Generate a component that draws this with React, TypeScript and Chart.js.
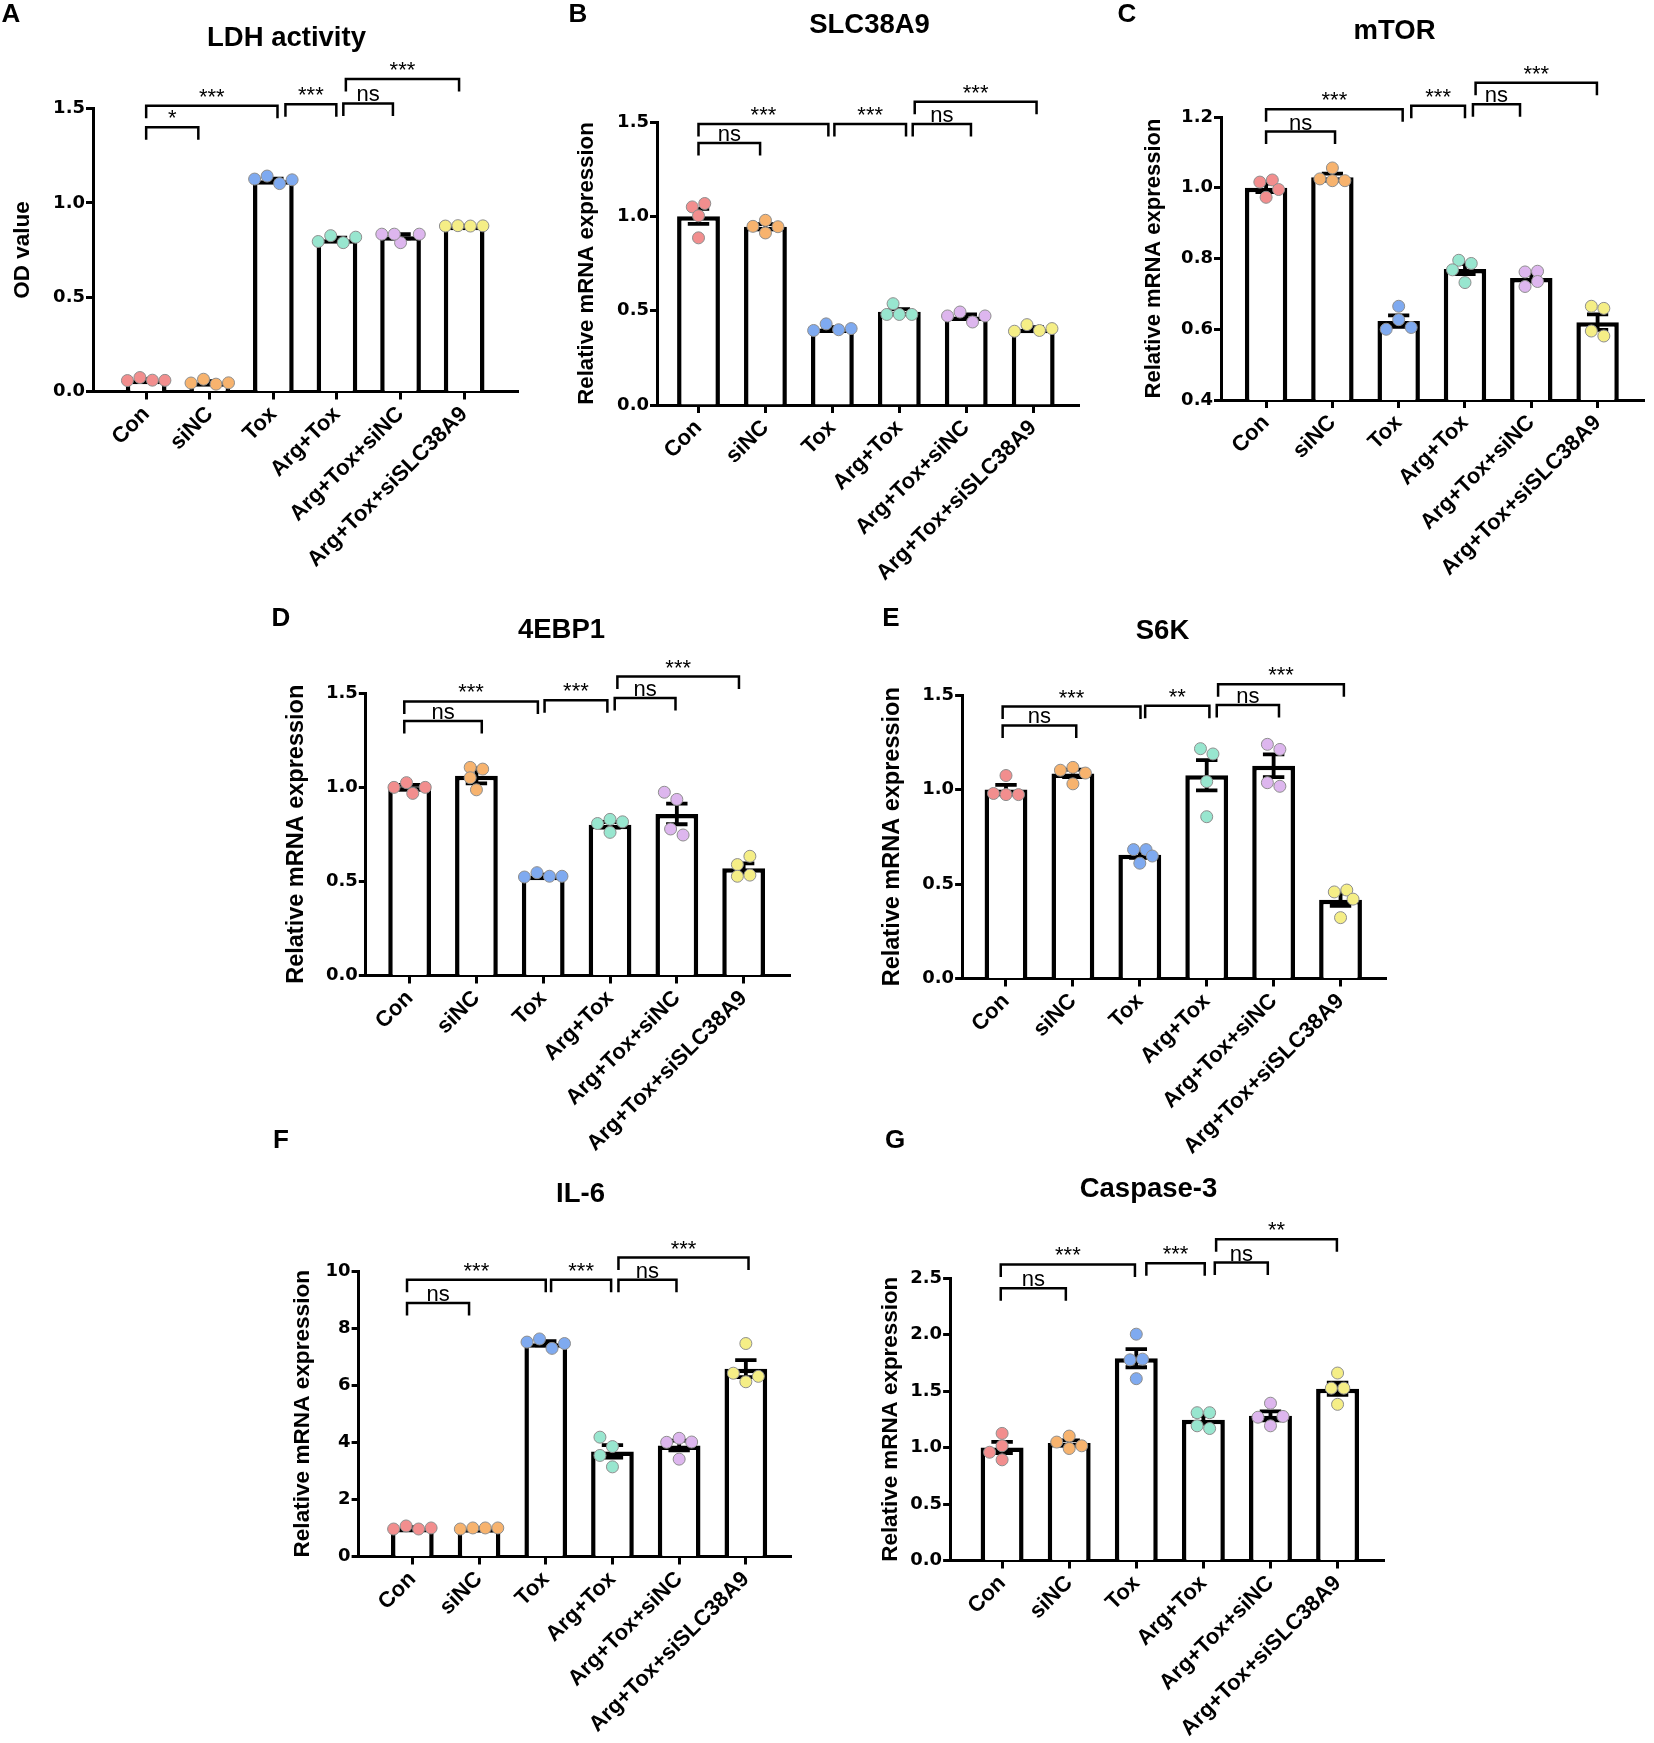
import React, { useEffect, useRef } from 'react';
import { Chart, registerables } from 'chart.js';

Chart.register(...registerables);

// ---------------- data ----------------
const categories = ['Con', 'siNC', 'Tox', 'Arg+Tox', 'Arg+Tox+siNC', 'Arg+Tox+siSLC38A9'];
const groupColors = ['#F28E8E', '#F7B36E', '#7FAAF0', '#98E6CF', '#DDB6EE', '#F5EE86'];
const comparisons: [number, number][] = [[0, 1], [0, 2], [2, 3], [3, 4], [3, 5]];

// A: LDH activity
const ldhMeans = [0.062, 0.049, 1.12, 0.807, 0.823, 0.878];
const ldhSem = [0.004, 0.006, 0.008, 0.009, 0.011, 0.001];
const ldhPoints = [
  [0.058, 0.074, 0.06, 0.059],
  [0.045, 0.065, 0.039, 0.046],
  [1.102, 1.142, 1.122, 1.126],
  [0.795, 0.826, 0.789, 0.818],
  [0.789, 0.834, 0.834, 0.834],
  [0.877, 0.879, 0.877, 0.878],
];
const ldhTicks = [0, 0.5, 1.0, 1.5];
const ldhSigLabels = ['*', '***', '***', 'ns', '***'];
const ldhSigY = [1.40, 1.514, 1.523, 1.527, 1.657];

// B: SLC38A9
const slcMeans = [1.0, 0.945, 0.405, 0.494, 0.469, 0.404];
const slcSem = [0.04, 0.014, 0.008, 0.014, 0.011, 0.008];
const slcPoints = [
  [1.068, 1.05, 1.003, 0.886],
  [0.979, 0.912, 0.947, 0.945],
  [0.395, 0.43, 0.399, 0.405],
  [0.48, 0.537, 0.48, 0.48],
  [0.44, 0.493, 0.472, 0.472],
  [0.391, 0.426, 0.395, 0.405],
];
const slcTicks = [0, 0.5, 1.0, 1.5];
const slcSigLabels = ['ns', '***', '***', 'ns', '***'];
const slcSigY = [1.389, 1.49, 1.49, 1.49, 1.607];

// C: mTOR
const mtorMeans = [1.0, 1.03, 0.623, 0.77, 0.745, 0.62];
const mtorSem = [0.012, 0.01, 0.016, 0.014, 0.01, 0.022];
const mtorPoints = [
  [1.022, 1.016, 0.995, 0.973],
  [1.02, 1.056, 1.025, 1.02],
  [0.627, 0.665, 0.6, 0.605],
  [0.795, 0.768, 0.786, 0.732],
  [0.764, 0.762, 0.735, 0.721],
  [0.659, 0.665, 0.581, 0.595],
];
const mtorTicks = [0.4, 0.6, 0.8, 1.0, 1.2];
const mtorSigLabels = ['ns', '***', '***', 'ns', '***'];
const mtorSigY = [1.159, 1.222, 1.232, 1.236, 1.297];

// D: 4EBP1
const ebpMeans = [1.0, 1.06, 0.53, 0.80, 0.858, 0.57];
const ebpSem = [0.012, 0.04, 0.005, 0.015, 0.055, 0.025];
const ebpPoints = [
  [0.967, 1.024, 0.999, 0.999],
  [1.105, 1.05, 1.096, 0.986],
  [0.523, 0.546, 0.527, 0.527],
  [0.829, 0.807, 0.816, 0.76],
  [0.935, 0.973, 0.746, 0.778],
  [0.533, 0.589, 0.633, 0.527],
];
const ebpTicks = [0, 0.5, 1.0, 1.5];
const ebpSigLabels = ['ns', '***', '***', 'ns', '***'];
const ebpSigY = [1.351, 1.455, 1.462, 1.474, 1.587];

// E: S6K
const s6kMeans = [1.0, 1.085, 0.655, 1.075, 1.126, 0.417];
const s6kSem = [0.025, 0.02, 0.017, 0.08, 0.06, 0.033];
const s6kPoints = [
  [0.973, 1.074, 0.979, 0.973],
  [1.117, 1.03, 1.102, 1.087],
  [0.682, 0.682, 0.61, 0.648],
  [1.188, 1.216, 1.042, 0.856],
  [1.212, 1.239, 1.017, 1.036],
  [0.468, 0.458, 0.42, 0.322],
];
const s6kTicks = [0, 0.5, 1.0, 1.5];
const s6kSigLabels = ['ns', '***', '**', 'ns', '***'];
const s6kSigY = [1.339, 1.439, 1.443, 1.447, 1.557];

// F: IL-6
const il6Means = [1.0, 0.99, 7.47, 3.68, 3.89, 6.58];
const il6Sem = [0.03, 0.01, 0.07, 0.22, 0.17, 0.3];
const il6Points = [
  [0.963, 1.07, 0.963, 1.0],
  [0.963, 1.0, 1.0, 1.0],
  [7.29, 7.62, 7.46, 7.51],
  [3.85, 4.18, 3.54, 3.14],
  [4.14, 4.0, 4.01, 3.41],
  [6.12, 6.42, 6.31, 7.46],
];
const il6Ticks = [0, 2, 4, 6, 8, 10];
const il6SigLabels = ['ns', '***', '***', 'ns', '***'];
const il6SigY = [8.88, 9.69, 9.69, 9.69, 10.47];

// G: Caspase-3
const casMeans = [1.0, 1.04, 1.79, 1.245, 1.28, 1.52];
const casSem = [0.05, 0.023, 0.08, 0.036, 0.04, 0.055];
const casPoints = [
  [1.015, 1.125, 0.958, 0.891],
  [1.101, 1.048, 0.991, 1.015],
  [2.003, 1.782, 1.776, 1.609],
  [1.308, 1.308, 1.168, 1.192],
  [1.392, 1.192, 1.268, 1.275],
  [1.659, 1.525, 1.525, 1.382],
];
const casTicks = [0, 0.5, 1.0, 1.5, 2.0, 2.5];
const casSigLabels = ['ns', '***', '***', 'ns', '**'];
const casSigY = [2.41, 2.62, 2.63, 2.637, 2.844];

// ---------------- styling / layout ----------------
const SANS = "'Liberation Sans', Arial, Helvetica, sans-serif";
const WIDE = "'DejaVu Sans', Verdana, sans-serif";
const POINT_RADIUS = 6;
const POINT_D = 12.5;
const X_AXIS_H = 195;

interface PanelData {
  letter: string; title: string; yLabel: string;
  means: number[]; sem: number[]; points: number[][];
  yTicks: number[]; decimals: number; sigLabels: string[]; sigY: number[];
}
interface PanelLayout {
  letterPos: [number, number]; titlePos: [number, number]; titleSize: number;
  axisX: number; top: number; bottom: number; xEnd: number; xMin: number; xMax: number;
  yTitleX: number; yTitleSize: number;
  bracketX: [number, number][]; // bracket end positions along the category axis
}

const panels: { d: PanelData; l: PanelLayout }[] = [
  {
    d: { letter: 'A', title: 'LDH activity', yLabel: 'OD value', means: ldhMeans, sem: ldhSem, points: ldhPoints, yTicks: ldhTicks, decimals: 1, sigLabels: ldhSigLabels, sigY: ldhSigY },
    l: { letterPos: [11, 15], titlePos: [286.5, 38.5], titleSize: 27.5, axisX: 93, top: 108.5, bottom: 391.5, xEnd: 518.4, xMin: -0.836, xMax: 5.853, yTitleX: 23, yTitleSize: 22.5,
      bracketX: [[0, 0.82], [0, 2.065], [2.19, 2.99], [3.10, 3.88], [3.14, 4.92]] },
  },
  {
    d: { letter: 'B', title: 'SLC38A9', yLabel: 'Relative mRNA expression', means: slcMeans, sem: slcSem, points: slcPoints, yTicks: slcTicks, decimals: 1, sigLabels: slcSigLabels, sigY: slcSigY },
    l: { letterPos: [578, 15], titlePos: [869.5, 25], titleSize: 27.5, axisX: 657, top: 122, bottom: 405, xEnd: 1079.4, xMin: -0.62, xMax: 5.69, yTitleX: 587, yTitleSize: 22.2,
      bracketX: [[0, 0.92], [0, 1.94], [2.03, 3.10], [3.20, 4.07], [3.23, 5.05]] },
  },
  {
    d: { letter: 'C', title: 'mTOR', yLabel: 'Relative mRNA expression', means: mtorMeans, sem: mtorSem, points: mtorPoints, yTicks: mtorTicks, decimals: 1, sigLabels: mtorSigLabels, sigY: mtorSigY },
    l: { letterPos: [1127, 15], titlePos: [1394.5, 31], titleSize: 27.5, axisX: 1221, top: 117, bottom: 400, xEnd: 1644, xMin: -0.68, xMax: 5.70, yTitleX: 1154, yTitleSize: 22,
      bracketX: [[0, 1.04], [0, 2.06], [2.19, 3.0], [3.12, 3.83], [3.16, 4.99]] },
  },
  {
    d: { letter: 'D', title: '4EBP1', yLabel: 'Relative mRNA expression', means: ebpMeans, sem: ebpSem, points: ebpPoints, yTicks: ebpTicks, decimals: 1, sigLabels: ebpSigLabels, sigY: ebpSigY },
    l: { letterPos: [281, 619], titlePos: [561.5, 630], titleSize: 27.5, axisX: 365.8, top: 693, bottom: 975.5, xEnd: 790.4, xMin: -0.656, xMax: 5.70, yTitleX: 297, yTitleSize: 23.5,
      bracketX: [[-0.08, 1.08], [-0.08, 1.92], [2.02, 2.96], [3.07, 3.98], [3.11, 4.93]] },
  },
  {
    d: { letter: 'E', title: 'S6K', yLabel: 'Relative mRNA expression', means: s6kMeans, sem: s6kSem, points: s6kPoints, yTicks: s6kTicks, decimals: 1, sigLabels: s6kSigLabels, sigY: s6kSigY },
    l: { letterPos: [891, 619], titlePos: [1162.5, 631], titleSize: 27.5, axisX: 962.1, top: 695, bottom: 978.5, xEnd: 1386.7, xMin: -0.656, xMax: 5.69, yTitleX: 893, yTitleSize: 23.5,
      bracketX: [[-0.05, 1.05], [-0.05, 2.01], [2.08, 3.04], [3.15, 4.08], [3.17, 5.05]] },
  },
  {
    d: { letter: 'F', title: 'IL-6', yLabel: 'Relative mRNA expression', means: il6Means, sem: il6Sem, points: il6Points, yTicks: il6Ticks, decimals: 0, sigLabels: il6SigLabels, sigY: il6SigY },
    l: { letterPos: [281, 1141], titlePos: [580.5, 1194.5], titleSize: 27.5, axisX: 358.6, top: 1271, bottom: 1556.5, xEnd: 791.4, xMin: -0.806, xMax: 5.683, yTitleX: 303, yTitleSize: 22.6,
      bracketX: [[-0.08, 0.85], [-0.08, 2.0], [2.08, 2.98], [3.09, 3.96], [3.09, 5.04]] },
  },
  {
    d: { letter: 'G', title: 'Caspase-3', yLabel: 'Relative mRNA expression', means: casMeans, sem: casSem, points: casPoints, yTicks: casTicks, decimals: 1, sigLabels: casSigLabels, sigY: casSigY },
    l: { letterPos: [895, 1141], titlePos: [1148.5, 1189.5], titleSize: 27.5, axisX: 950.1, top: 1278, bottom: 1560.5, xEnd: 1384.2, xMin: -0.775, xMax: 5.695, yTitleX: 891, yTitleSize: 22.4,
      bracketX: [[-0.02, 0.95], [-0.02, 1.98], [2.15, 3.02], [3.17, 3.96], [3.19, 4.99]] },
  },
];

function swarmOffsets(pys: number[], d: number): number[] {
  const n = pys.length;
  const range = Math.max(...pys) - Math.min(...pys);
  if (range < d * 0.6) return pys.map((_, k) => (k - (n - 1) / 2) * d);
  const offs: number[] = [];
  const placed: { x: number; y: number }[] = [];
  const s = d / 2;
  for (let k = 0; k < n; k++) {
    const y = pys[k];
    let chosen = 0;
    for (let m = 0; m < 30; m++) {
      const cand = m === 0 ? 0 : (m % 2 === 1 ? -1 : 1) * Math.ceil(m / 2) * s;
      if (placed.every((p) => Math.hypot(p.x - cand, p.y - y) >= d * 0.95)) { chosen = cand; break; }
    }
    placed.push({ x: chosen, y });
    offs.push(chosen);
  }
  const idx = pys.map((_, i) => i).sort((a, b) => pys[a] - pys[b]);
  const rows: number[][] = [];
  let row = [idx[0]];
  for (let t = 1; t < idx.length; t++) {
    if (pys[idx[t]] - pys[row[row.length - 1]] < d * 0.5) row.push(idx[t]);
    else { rows.push(row); row = [idx[t]]; }
  }
  rows.push(row);
  for (const r of rows) {
    if (r.length > 1) {
      const xs = r.map((i) => offs[i]);
      const c = (Math.min(...xs) + Math.max(...xs)) / 2;
      r.forEach((i) => { offs[i] -= c; });
    }
  }
  return offs;
}

function ChartPanel({ d, l }: { d: PanelData; l: PanelLayout }) {
  const ref = useRef<HTMLCanvasElement>(null);
  const boxX = Math.floor(Math.min(l.letterPos[0] - 22, l.yTitleX - 20, l.axisX - 110));
  const boxY = Math.floor(Math.min(l.letterPos[1] - 25, l.titlePos[1] - 25));
  const boxW = Math.ceil(l.xEnd + 20 - boxX);
  const boxH = Math.ceil(l.bottom + X_AXIS_H + 10 - boxY);

  useEffect(() => {
    const canvas = ref.current!;
    const lh = l.yTitleSize * 1.2;
    const padLeft = l.yTitleX - boxX - lh / 2;
    const yAxisW = l.axisX - boxX - padLeft;
    const padTop = l.top - boxY;
    const padRight = boxX + boxW - l.xEnd;
    const padBottom = boxH - (l.bottom - boxY) - X_AXIS_H;

    const pointData: { x: number; y: number }[] = [];
    const pointColors: string[] = [];
    d.points.forEach((grp, i) => grp.forEach((v) => { pointData.push({ x: i, y: v }); pointColors.push(groupColors[i]); }));

    const errorBars = {
      id: 'errorBars',
      afterDatasetDraw(chart: any, args: any) {
        if (args.index !== 0) return;
        const { ctx } = chart; const xs = chart.scales.x; const ys = chart.scales.y;
        ctx.save();
        ctx.strokeStyle = '#000'; ctx.lineWidth = 3.8; ctx.lineCap = 'butt';
        d.means.forEach((m, i) => {
          const x = xs.getPixelForValue(i);
          const hw = xs.getPixelForValue(i + 0.16) - x;
          const yt = ys.getPixelForValue(m + d.sem[i]);
          const yb = ys.getPixelForValue(m - d.sem[i]);
          ctx.beginPath();
          ctx.moveTo(x, yt); ctx.lineTo(x, yb);
          ctx.moveTo(x - hw, yt); ctx.lineTo(x + hw, yt);
          ctx.moveTo(x - hw, yb); ctx.lineTo(x + hw, yb);
          ctx.stroke();
        });
        ctx.restore();
      },
    };

    const annotations = {
      id: 'annotations',
      afterDraw(chart: any) {
        const { ctx } = chart; const xs = chart.scales.x; const ys = chart.scales.y;
        ctx.save();
        ctx.strokeStyle = '#000'; ctx.fillStyle = '#000'; ctx.lineWidth = 2.5; ctx.lineJoin = 'miter';
        ctx.textAlign = 'center'; ctx.textBaseline = 'alphabetic';
        ctx.font = `22px ${SANS}`;
        comparisons.forEach((_, j) => {
          const x1 = xs.getPixelForValue(l.bracketX[j][0]);
          const x2 = xs.getPixelForValue(l.bracketX[j][1]);
          const y = ys.getPixelForValue(d.sigY[j]);
          ctx.beginPath();
          ctx.moveTo(x1, y + 12.5); ctx.lineTo(x1, y); ctx.lineTo(x2, y); ctx.lineTo(x2, y + 12.5);
          ctx.stroke();
          ctx.fillText(d.sigLabels[j], (x1 + x2) / 2, y - 2);
        });
        ctx.textBaseline = 'middle';
        ctx.font = `bold ${l.titleSize}px ${SANS}`;
        ctx.fillText(d.title, l.titlePos[0] - boxX, l.titlePos[1] - boxY);
        ctx.font = `bold 26px ${SANS}`;
        ctx.fillText(d.letter, l.letterPos[0] - boxX, l.letterPos[1] - boxY);
        ctx.restore();
      },
    };

    const chart = new Chart(canvas, {
      type: 'bar',
      data: {
        datasets: [
          {
            type: 'bar',
            data: d.means.map((m, i) => ({ x: i, y: m })),
            backgroundColor: '#ffffff',
            borderColor: '#000000',
            borderWidth: 4.5,
            borderSkipped: 'start',
            barPercentage: 0.64,
            categoryPercentage: 1,
            order: 2,
          } as any,
          {
            type: 'scatter',
            data: pointData,
            pointRadius: POINT_RADIUS,
            pointHoverRadius: POINT_RADIUS,
            pointBackgroundColor: pointColors,
            pointBorderColor: '#8e8e8e',
            pointBorderWidth: 1,
            showLine: false,
            order: 1,
          } as any,
        ],
      },
      options: {
        responsive: false,
        animation: false,
        devicePixelRatio: 1,
        events: [],
        layout: { padding: { left: padLeft, right: padRight, top: padTop, bottom: padBottom } },
        plugins: { legend: { display: false }, tooltip: { enabled: false } },
        scales: {
          x: {
            type: 'linear',
            min: l.xMin,
            max: l.xMax,
            offset: false,
            afterBuildTicks: (s: any) => { s.ticks = categories.map((_, i) => ({ value: i })); },
            afterFit: (s: any) => { s.height = X_AXIS_H; },
            ticks: {
              autoSkip: false,
              minRotation: 45,
              maxRotation: 45,
              padding: 2,
              color: '#000',
              font: { family: SANS, size: 22, weight: 'bold' },
              callback: (v: any) => categories[Math.round(Number(v))] ?? '',
            },
            grid: { display: true, offset: false, drawOnChartArea: false, drawTicks: true, tickLength: 8, tickWidth: 3, tickColor: '#000' },
            border: { display: true, width: 3, color: '#000' },
          } as any,
          y: {
            type: 'linear',
            min: d.yTicks[0],
            max: d.yTicks[d.yTicks.length - 1],
            afterBuildTicks: (s: any) => { s.ticks = d.yTicks.map((v) => ({ value: v })); },
            afterFit: (s: any) => { s.width = yAxisW; },
            ticks: {
              padding: 1,
              color: '#000',
              font: { family: WIDE, size: 18, weight: 'bold' },
              callback: (v: any) => Number(v).toFixed(d.decimals),
            },
            grid: { display: true, drawOnChartArea: false, drawTicks: true, tickLength: 7, tickWidth: 3, tickColor: '#000' },
            border: { display: true, width: 3, color: '#000' },
            title: {
              display: true,
              text: d.yLabel,
              color: '#000',
              padding: { top: 0, bottom: 0 },
              font: { family: SANS, size: l.yTitleSize, weight: 'bold', lineHeight: 1.2 },
            },
          } as any,
        },
      } as any,
      plugins: [errorBars, annotations],
    });

    // beeswarm-style horizontal spread of the replicate points (computed in pixel space)
    const xs: any = chart.scales.x; const ys: any = chart.scales.y;
    const pxPerUnit = xs.getPixelForValue(1) - xs.getPixelForValue(0);
    const spread: { x: number; y: number }[] = [];
    d.points.forEach((grp, i) => {
      const offs = swarmOffsets(grp.map((v) => ys.getPixelForValue(v)), POINT_D);
      grp.forEach((v, k) => spread.push({ x: i + offs[k] / pxPerUnit, y: v }));
    });
    (chart.data.datasets[1] as any).data = spread;
    chart.update('none');

    return () => chart.destroy();
  }, []);

  return (
    <canvas
      ref={ref}
      width={boxW}
      height={boxH}
      style={{ position: 'absolute', left: boxX, top: boxY, width: boxW, height: boxH }}
    />
  );
}

export default function App() {
  return (
    <div style={{ position: 'absolute', left: 0, top: 0, width: 1654, height: 1743, background: '#ffffff', overflow: 'hidden' }}>
      {panels.map((p, i) => (
        <ChartPanel key={i} d={p.d} l={p.l} />
      ))}
    </div>
  );
}
